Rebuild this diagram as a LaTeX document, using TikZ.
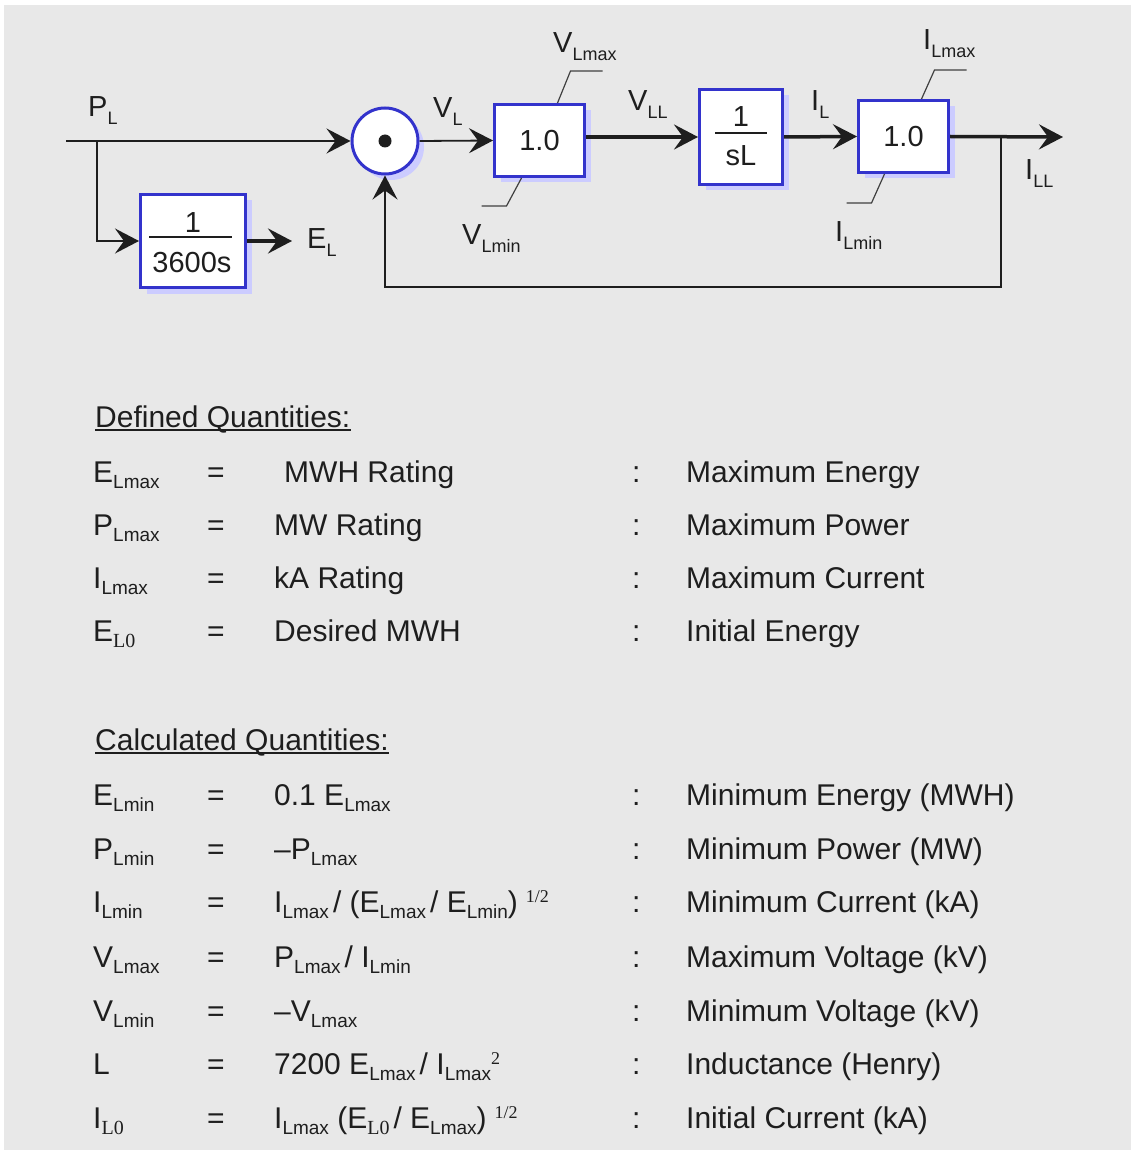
\documentclass[tikz,border=0pt]{standalone}
\usepackage{fontspec}
\setmainfont{Liberation Sans}
\newfontfamily\serifft{Liberation Serif}
\usetikzlibrary{arrows.meta,shadows}
\definecolor{bgc}{HTML}{E8E8E8}
\definecolor{bluec}{HTML}{3333CC}
\definecolor{shadc}{HTML}{CCCCFF}
\definecolor{tc}{HTML}{1E1E1E}
\newcommand\ts[1]{\raisebox{-6pt}{\fontsize{19}{19}\selectfont #1}}
\newcommand\tz[1]{\raisebox{-6pt}{\fontsize{20}{20}\selectfont\serifft #1}}
\newcommand\tp[1]{\raisebox{10pt}{\fontsize{18}{18}\selectfont\serifft #1}}
\newcommand\ds[1]{\raisebox{-8pt}{\fontsize{18}{18}\selectfont #1}}
\newcommand\slsep{\hspace{4pt}/ }
\newcommand\qrow[5]{%
  \node[txt] (#1s) at (93,#2) {#3};
  \node[txt] (#1e) at (207,#2) {=};
  \node[txt] (#1v) at (274,#2) {#4};
  \node[txt] (#1c) at (632,#2) {:};
  \node[txt] (#1d) at (686,#2) {#5};}
\begin{document}
\begin{tikzpicture}[x=1pt,y=-1pt,
  blk/.style={draw=bluec, line width=3pt, fill=white,
    drop shadow={shadow xshift=6pt, shadow yshift=-6pt, fill=shadc, opacity=1},
    inner sep=0pt, font=\fontsize{29}{34}\selectfont, text=tc},
  wire/.style={line width=1.8pt, draw=tc},
  bus/.style={line width=3.5pt, draw=tc},
  arr/.style={-{Stealth[length=24pt,width=25pt,inset=9pt]}},
  lead/.style={line width=1.2pt, draw=tc!85},
  lbl/.style={anchor=base west, inner sep=0pt, font=\fontsize{29}{32}\selectfont, text=tc},
  txt/.style={anchor=base west, inner sep=0pt, font=\fontsize{30}{34}\selectfont, text=tc},
  fnum/.style={anchor=base, inner sep=0pt, font=\fontsize{29}{34}\selectfont, text=tc}]
\useasboundingbox (0,0) rectangle (1131,1150);
\fill[white] (0,0) rectangle (1131,1150);
\fill[bgc] (4,5) rectangle (1131,1150);

% ---- block diagram ----
\node[blk, circle, minimum size=66pt] (sum) at (385,141) {};
\node[circle, fill=tc, minimum size=13pt, inner sep=0pt] (dot) at (sum.center) {};
\node[blk, minimum width=105pt, minimum height=93pt] (b3600) at (193,241) {};
\node[fnum] (b3600n) at (193,233) {1};
\node[fnum] (b3600d) at (192,272) {3600s};
\draw[line width=1.6pt, tc] (149,237) -- (232,237);
\node[blk, minimum width=90pt, minimum height=72pt] (b1) at (539.5,140.5) {1.0};
\node[blk, minimum width=83pt, minimum height=95pt] (bsl) at (741,137) {};
\node[fnum] (bsln) at (741,127) {1};
\node[fnum] (bsld) at (741,166) {sL};
\draw[line width=1.6pt, tc] (715,133) -- (767,133);
\node[blk, minimum width=90pt, minimum height=72pt] (b2) at (903.5,136.5) {1.0};

\coordinate (pin) at (66,141);
\coordinate (br) at (97,141);
\coordinate (elout) at (292,241);
\coordinate (out) at (1063,137);
\coordinate (fb) at (1001,137);
\coordinate (fbc) at (1001,287);

\draw[wire, arr] (pin) -- (sum.west);
\draw[wire, arr] (br) |- (b3600.west);
\draw[bus, arr] (b3600.east) -- (elout);
\draw[wire, arr] (sum.east) -- (b1.west);
\draw[bus, arr] (b1.east |- bsl.west) -- (bsl.west);
\draw[bus, arr] (bsl.east) -- (b2.west);
\draw[bus, arr] (b2.east) -- (out);
\draw[wire, arr] (fb) -- (fbc) -| (sum.south);

% limit leaders
\draw[lead] ([xshift=18pt]b1.north) -- ++(13,-32) -- ++(32,0);
\draw[lead] ([xshift=-18pt]b1.south) -- ++(-15,28) -- ++(-25,0);
\draw[lead] ([xshift=18pt]b2.north) -- ++(13,-29) -- ++(32,0);
\draw[lead] ([xshift=-19pt]b2.south) -- ++(-13,29) -- ++(-25,0);

% labels
\node[lbl] (lPL) at (88,117) {P\ds{L}};
\node[lbl] (lEL) at (307,248) {E\ds{L}};
\node[lbl] (lVL) at (433,118) {V\ds{L}};
\node[lbl] (lVmax) at (553,53) {V\ds{Lmax}};
\node[lbl] (lVmin) at (462,244) {V\ds{Lmin}};
\node[lbl] (lVLL) at (628,111) {V\ds{LL}};
\node[lbl] (lIL) at (811,111) {I\ds{L}};
\node[lbl] (lImax) at (923,50) {I\ds{Lmax}};
\node[lbl] (lImin) at (835,242) {I\ds{Lmin}};
\node[lbl] (lILL) at (1025,180) {I\ds{LL}};

% ---- tables ----
\node[txt] (h1) at (95,427) {Defined Quantities:};
\draw[line width=1.6pt, tc] ([yshift=-3pt]h1.base west) -- ([yshift=-3pt]h1.base east);
\qrow{d1}{482}{E\ts{Lmax}}{\hspace{10pt}MWH Rating}{Maximum Energy}
\qrow{d2}{535}{P\ts{Lmax}}{MW Rating}{Maximum Power}
\qrow{d3}{588}{I\ts{Lmax}}{kA Rating}{Maximum Current}
\qrow{d4}{641}{E\tz{L0}}{Desired MWH}{Initial Energy}

\node[txt] (h2) at (95,750) {Calculated Quantities:};
\draw[line width=1.6pt, tc] ([yshift=-3pt]h2.base west) -- ([yshift=-3pt]h2.base east);
\qrow{c1}{805}{E\ts{Lmin}}{0.1 E\ts{Lmax}}{Minimum Energy (MWH)}
\qrow{c2}{859}{P\ts{Lmin}}{–P\ts{Lmax}}{Minimum Power (MW)}
\qrow{c3}{912}{I\ts{Lmin}}{I\ts{Lmax}\slsep(E\ts{Lmax}\slsep E\ts{Lmin})\hspace{8pt}\tp{1/2}}{Minimum Current (kA)}
\qrow{c4}{967}{V\ts{Lmax}}{P\ts{Lmax}\slsep I\ts{Lmin}}{Maximum Voltage (kV)}
\qrow{c5}{1021}{V\ts{Lmin}}{–V\ts{Lmax}}{Minimum Voltage (kV)}
\qrow{c6}{1074}{L}{7200 E\ts{Lmax}\slsep I\ts{Lmax}\tp{2}}{Inductance (Henry)}
\qrow{c7}{1128}{I\tz{L0}}{I\ts{Lmax} (E\tz{L0}\slsep E\ts{Lmax})\hspace{8pt}\tp{1/2}}{Initial Current (kA)}
\end{tikzpicture}
\end{document}
